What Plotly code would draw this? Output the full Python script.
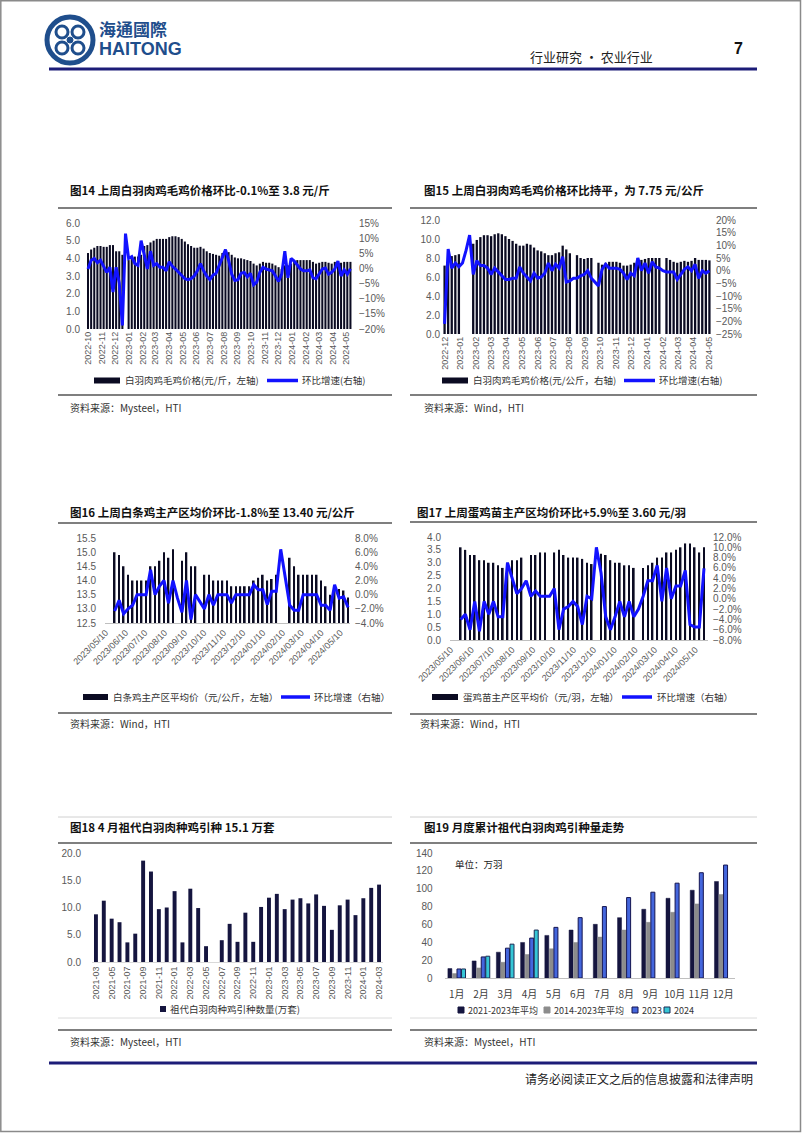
import plotly.graph_objects as go
import pandas as pd

W, H = 802, 1133
def X(px): return px / W
def Y(py): return 1 - py / H

DAY = 86400000

# ---------------- Chart 14: 白羽肉鸡毛鸡价格 (Mysteel) ----------------
c14_start = "2022-10-01"
c14_price = [4.3, 4.5, 4.6, 4.7, 4.7, 4.65, 4.65, 4.75, 4.75, 4.4, 4.4, 4.2, None,
             3.9, 4.0, 4.1, 4.1, 4.2, 4.7, 4.75, 4.9, 5.0, 5.1, 5.1, 5.1, 5.1,
             5.2, 5.25, 5.25, 5.2, 5.1, 4.95, 4.8, 4.7, 4.6, 4.6, 4.65, 4.55, 4.4, 4.3, 4.25, 4.2,
             4.15, 4.3, 4.5, 4.35, 4.2, 4.05, 4.0, 4.0, 3.95, 3.9, 3.85, 3.7, 3.6, 3.7, 3.8, 3.75,
             3.75, 3.7, 3.6, 3.5, 3.4, 3.6, 3.6, 3.7, 3.85, 3.9, 3.9, 3.9, 3.9, 3.9, 3.8, 3.7,
             3.75, 3.8, 3.8, 3.75, 3.7, 3.8, 3.8, 3.75, 3.8, 3.8, 3.8]
c14_chg = [-0.2, 2.7, 3.3, 1.9, 2.7, 0.4, -1.3, 0.4, -7.8, 0.4, -4.8, -18.8, 11.5,
           3.3, 3.9, 1.6, 1.0, 9.2, 4.5, -0.2, 5.7, 1.0, 1.6, 0.4, 0.4, -0.8,
           2.2, 0.7, -0.2, -1.3, -2.5, -3.4, -3.7, -3.4, -2.5, -0.8, 1.6, -0.8, -2.5, -3.7, -2.2, -1.6,
           1.0, 3.9, 6.2, 2.7, -1.9, -4.0, -3.7, -1.6, -1.3, -2.8, -1.6, -5.4, -4.5, -1.3, 0.4, -0.2,
           -0.5, -0.8, -2.5, -4.3, -1.9, 5.7, -3.1, 3.3, 2.4, 1.0, -0.2, -0.8, -0.8, -0.5, -3.1, -3.4,
           -1.9, -0.2, 0.1, -1.9, -1.3, -0.2, 2.4, -2.5, -0.5, -1.9, -0.1]

# ---------------- Chart 15: 白羽肉鸡毛鸡价格 (Wind) ----------------
c15_start = "2022-12-01"
c15_price = [7.2, 7.8, 8.2, 8.3, 8.4, None, None, None, 9.5, 9.9, 10.2, 10.4, 10.4, 10.3, 10.5,
             10.6, 10.5, 10.3, 10.0, 9.8, 9.5, 9.3, 9.3, 9.5, 9.4, 9.1, 8.8, 8.7, 8.5, 8.3,
             8.3, 8.5, 8.6, 9.3, 8.9, 8.5, None, 8.3, 8.0, 7.9, 8.0, 8.0, None, 7.5, 7.3,
             7.5, 7.6, 7.6, 7.6, 7.5, 7.2, 7.2, 7.3, 7.5, 8.0, 7.8, 7.9, 8.0, 8.0, 8.0,
             8.0, None, 8.0, 7.8, 7.6, 7.5, 7.6, 7.7, 7.6, 7.7, 8.0, 7.8, 7.8, 7.8, 7.75]
c15_chg = [-21.0, 8.5, 1.0, 3.0, 1.5, 3.0, 8.0, 14.0, -1.5, 4.0, 2.0, 2.0, 1.0, -1.5, 1.0,
           -0.5, -2.0, -3.5, -3.5, -3.0, -3.0, 1.5, -1.0, -2.5, -4.0, -1.0, -3.0, -2.5, -1.0, 3.0,
           0.0, 2.5, 1.0, 5.5, -4.5, -4.0, -3.0, -3.0, -2.0, -1.5, 0.0, -3.0, -4.5, -6.0, 0.5,
           2.5, 1.0, 1.0, 1.0, 0.5, -1.0, -3.5, -1.0, -2.0, 5.0, 0.0, 3.0, -1.0, 3.5, 1.5,
           1.0, 0.0, -0.5, -0.5, -0.5, -3.5, -1.5, 0.5, 1.5, 0.0, 2.5, -3.0, 0.0, -1.0, 0.0]

# ---------------- Chart 16: 白条鸡主产区均价 ----------------
c16_start = "2023-05-24"
c16_price = [15.0, 14.9, 14.5, 14.2, 14.0, 14.0, 14.0, 14.0, 14.5, 14.5, 14.7, 15.0, 14.8,
             15.1, None, 14.7, 15.0, 14.5, 14.5, None, 14.2, 14.2, 14.0, 14.0, 14.0, 14.0,
             13.8, 13.8, 13.8, 13.8, 13.8, 14.0, 14.1, 14.2, 14.0, 14.05, 14.2, None, None,
             14.8, 14.5, 14.2, 14.2, 14.2, 14.2, 14.2, 14.0, 13.8, 13.5, 13.7, 13.7, 13.65, 13.4]
c16_chg = [-2.3, -0.8, -2.7, -2.0, -1.5, 0.0, 0.0, 0.0, 3.5, 0.0, 1.2, 2.0, -1.2,
           2.0, -0.5, -2.5, 2.0, -3.5, 0.0, -1.0, -2.0, 0.0, -1.5, 0.0, 0.0, 0.0,
           -1.2, 0.0, 0.0, 0.0, 0.0, 1.4, 0.7, 0.7, -1.4, 0.5, 0.5, 6.4, 2.5,
           -1.5, -2.2, -2.2, 0.0, 0.0, 0.0, 0.0, -1.5, -1.5, -2.2, 1.4, -0.5, -0.3, -1.8]

# ---------------- Chart 17: 蛋鸡苗主产区均价 ----------------
c17_start = "2023-05-25"
c17_price = [3.6, 3.5, 3.3, 3.3, 3.1, 3.1, 3.0, 3.0, 2.9, 2.8, 3.0, 3.1, 3.1, 3.2,
             None, 3.3, 3.3, 3.4, 3.4, None, 3.4, 3.5, 3.3, 3.2, 3.2, 3.2, 3.15, 3.0,
             2.95, None, 3.35, 3.3, 3.1, 3.0, 3.0, 2.9, 2.9, 2.8, None, 2.8, 2.9, 3.0,
             3.2, 3.2, 3.4, 3.4, 3.5, 3.6, 3.75, 3.75, 3.6, 3.4, 3.6]
c17_chg = [-4.0, -3.0, -6.0, -0.5, -6.3, -0.5, -3.0, -0.5, -3.5, -3.5, 7.0, 4.0, 1.0, 2.0,
           3.5, 0.5, 1.5, 0.5, 0.5, 0.5, 2.0, -6.0, -2.0, -1.5, -0.5, -1.5, -5.0, 0.5,
           0.0, 10.0, 5.0, -3.5, -6.0, -3.5, -0.5, -3.5, -0.5, -3.5, -2.0, 0.5, 3.5, 3.5,
           6.5, -0.5, 6.0, 0.0, 2.5, 2.5, 5.5, -5.0, -5.5, -5.5, 5.9]

# ---------------- Chart 18: 祖代白羽肉种鸡引种数量 ----------------
c18_start = "2021-03-01"
c18_values = [8.75, 11.25, 7.95, 7.3, 3.6, 5.2, 18.6, 16.6, 9.7, 10.0, 13.0, 3.6, 13.45, 9.9,
              2.9, 0.0, 4.0, 7.0, 3.7, 9.05, 3.7, 10.1, 11.8, 12.5, 9.7, 11.45, 11.7, 10.75,
              12.4, 10.3, 5.9, 10.4, 11.45, 8.6, 11.7, 13.6, 14.2]

# ---------------- Chart 19: 月度累计祖代白羽肉鸡引种量 ----------------
c19_months = ["1月", "2月", "3月", "4月", "5月", "6月", "7月", "8月", "9月", "10月", "11月", "12月"]
c19_avg_21_23 = [10.5, 19.1, 28.9, 39.8, 47.7, 53.7, 60.1, 67.6, 77.0, 89.3, 98.3, 108.1]
c19_avg_14_23 = [4.9, 11.3, 17.6, 26.3, 32.7, 39.8, 45.8, 53.7, 62.3, 73.6, 83.0, 93.5]
c19_2023 = [10.1, 23.6, 33.4, 44.7, 56.7, 67.6, 80.0, 90.1, 96.1, 106.2, 117.9, 126.5]
c19_2024 = [10.1, 24.4, 37.9, 53.7, None, None, None, None, None, None, None, None]
c19_names = ["2021-2023年平均", "2014-2023年平均", "2023", "2024"]

# ---------------- derived x values ----------------
c14_x = pd.date_range(c14_start, periods=len(c14_price), freq="7D")
c15_x = pd.date_range(c15_start, periods=len(c15_price), freq="7D")
c16_x = pd.date_range(c16_start, periods=len(c16_price), freq="7D")
c17_x = pd.date_range(c17_start, periods=len(c17_price), freq="7D")
c18_x = list(pd.date_range(c18_start, periods=len(c18_values), freq="MS").strftime("%Y-%m"))

BAR = "#0b0b22"
NAVY = "#15153f"
BLUE = "#1212ff"
CJK = "Noto Sans CJK SC"
LAT = "Liberation Sans, Arial, sans-serif"
TICKC = "#595959"

fig = go.Figure()

def line_tr(x, y, xa, ya):
    return go.Scatter(x=x, y=y, mode="lines", line=dict(color=BLUE, width=3),
                      connectgaps=True, xaxis=xa, yaxis=ya, showlegend=False, hoverinfo="skip")

fig.add_trace(go.Bar(x=c14_x, y=c14_price, width=4.6 * DAY, marker_color=BAR, xaxis="x", yaxis="y", showlegend=False))
fig.add_trace(line_tr(c14_x, c14_chg, "x", "y2"))
fig.add_trace(go.Bar(x=c15_x, y=c15_price, width=4.5 * DAY, marker_color=BAR, xaxis="x2", yaxis="y3", showlegend=False))
fig.add_trace(line_tr(c15_x, c15_chg, "x2", "y4"))
fig.add_trace(go.Bar(x=c16_x, y=c16_price, width=2.6 * DAY, marker_color=BAR, xaxis="x3", yaxis="y5", showlegend=False))
fig.add_trace(line_tr(c16_x, c16_chg, "x3", "y6"))
fig.add_trace(go.Bar(x=c17_x, y=c17_price, width=2.5 * DAY, marker_color=BAR, xaxis="x4", yaxis="y7", showlegend=False))
fig.add_trace(line_tr(c17_x, c17_chg, "x4", "y8"))
fig.add_trace(go.Bar(x=c18_x, y=c18_values, width=0.5, marker_color=NAVY, xaxis="x5", yaxis="y9", showlegend=False))

c19_styles = [dict(color=NAVY, line=dict(color=NAVY, width=0.5)),
              dict(color="#8c8c8c", line=dict(color="#8c8c8c", width=0.5)),
              dict(color="#4466dd", line=dict(color="#141450", width=1)),
              dict(color="#36c6d6", line=dict(color="#1a2a55", width=1))]
for name, vals, st in zip(c19_names, [c19_avg_21_23, c19_avg_14_23, c19_2023, c19_2024], c19_styles):
    fig.add_trace(go.Bar(x=c19_months, y=vals, name=name, marker=st, xaxis="x6", yaxis="y10", showlegend=False))

tickf = dict(family=LAT, size=10, color=TICKC)

def xdate(d0, d1, rng, tick0, fmt, angle, anchor, line=False, size=9):
    return dict(domain=[X(d0), X(d1)], anchor=anchor, type="date", range=rng, tick0=tick0, dtick="M1",
                tickformat=fmt, tickangle=angle, showgrid=False, zeroline=False, ticks="",
                showline=line, linecolor="#bfbfbf", linewidth=1, automargin=False,
                tickfont=dict(family=LAT, size=size, color=TICKC))

def yleft(p0, p1, rng, dtick, fmt, anchor, so=0):
    return dict(domain=[Y(p0), Y(p1)], anchor=anchor, range=rng, dtick=dtick, tickformat=fmt,
                showgrid=False, zeroline=False, ticks="", showline=False, tickfont=tickf,
                automargin=False, ticklabelstandoff=so)

def yright(over, anchor, rng, dtick, fmt, so=0):
    return dict(overlaying=over, anchor=anchor, side="right", range=rng, dtick=dtick, tickformat=fmt,
                ticksuffix="%", showgrid=False, zeroline=False, ticks="", showline=False, tickfont=tickf,
                automargin=False, ticklabelstandoff=so)

layout = dict(
    template="none",
    width=W, height=H, margin=dict(l=0, r=0, t=0, b=0, pad=0), autosize=False,
    paper_bgcolor="white", plot_bgcolor="white",
    barmode="group", bargap=0.25, bargroupgap=0.12, showlegend=False,
    xaxis=xdate(86, 354, ["2022-09-26 12:00", "2024-05-19"], "2022-10-01", "%Y-%m", -90, "y"),
    yaxis=yleft(329, 223, [0, 6], 1, ".1f", "x", so=5),
    yaxis2=yright("y", "x", [-20, 15], 5, "d", so=4),
    xaxis2=xdate(441, 713, ["2022-11-24", "2024-05-09"], "2022-12-01", "%Y-%m", -90, "y3"),
    yaxis3=yleft(334, 220, [0, 12], 2, ".1f", "x2"),
    yaxis4=yright("y3", "x2", [-25, 20], 5, "d", so=2),
    xaxis3=xdate(105, 350, ["2023-05-09", "2024-05-25"], "2023-05-10", "%Y/%m/%d", -45, "y5", line=True),
    yaxis5=yleft(623, 538, [12.5, 15.5], 0.5, ".1f", "x3", so=8),
    yaxis6=yright("y5", "x3", [-4, 8], 2, ".1f", so=4),
    xaxis4=xdate(450, 708, ["2023-05-09", "2024-05-29"], "2023-05-10", "%Y/%m/%d", -45, "y7", line=True),
    yaxis7=yleft(640, 537, [0, 4], 0.5, ".1f", "x4", so=8),
    yaxis8=yright("y7", "x4", [-8, 12], 2, ".1f", so=4),
    xaxis5=dict(domain=[X(92), X(383)], anchor="y9", type="category", tickangle=-90,
                tickvals=c18_x[::2], ticktext=c18_x[::2], showgrid=False, ticks="", automargin=False,
                showline=True, linecolor="#d9d9d9", tickfont=dict(family=LAT, size=9, color=TICKC)),
    yaxis9=yleft(962, 853, [0, 20], 5, ".1f", "x5", so=10),
    xaxis6=dict(domain=[X(444.6), X(735.4)], anchor="y10", type="category", showgrid=False, ticks="",
                automargin=False, showline=True, linecolor="#bfbfbf", ticklabelstandoff=7,
                tickfont=dict(family=CJK, size=10, color="#404040")),
    yaxis10=yleft(978, 853, [0, 140], 20, "d", "x6", so=11),
)
fig.update_layout(**layout)

shapes = []
annots = []

def hline(y, x0, x1, color, width):
    shapes.append(dict(type="line", xref="paper", yref="paper", x0=X(x0), x1=X(x1), y0=Y(y), y1=Y(y),
                       line=dict(color=color, width=width)))

def rect(x0, x1, y0, y1, fill, line=None):
    shapes.append(dict(type="rect", xref="paper", yref="paper", x0=X(x0), x1=X(x1), y0=Y(y0), y1=Y(y1),
                       fillcolor=fill, line=dict(color=line or fill, width=1 if line else 0)))

def txt(x, y, s, size, color="#222222", anchor="left", family=CJK):
    annots.append(dict(x=X(x), y=Y(y), xref="paper", yref="paper", text=s, showarrow=False,
                       xanchor=anchor, yanchor="middle", font=dict(family=family, size=size, color=color)))

# page border
shapes.append(dict(type="rect", xref="paper", yref="paper", x0=X(0.8), x1=X(800.5), y0=Y(1131.5), y1=Y(0.8),
                   line=dict(color="#8a8a8a", width=1.5), fillcolor="rgba(0,0,0,0)"))

# header logo
LOGO = "#1f4e8c"
shapes.append(dict(type="circle", xref="paper", yref="paper", x0=X(47), x1=X(93), y0=Y(63), y1=Y(17),
                   line=dict(color=LOGO, width=5), fillcolor="white"))
for cx, cy in [(62, 32), (78, 32), (62, 48), (78, 48)]:
    shapes.append(dict(type="circle", xref="paper", yref="paper", x0=X(cx - 6), x1=X(cx + 6),
                       y0=Y(cy + 6), y1=Y(cy - 6), line=dict(color=LOGO, width=3), fillcolor="white"))
shapes.append(dict(type="circle", xref="paper", yref="paper", x0=X(67), x1=X(73), y0=Y(43), y1=Y(37),
                   line=dict(color=LOGO, width=1), fillcolor=LOGO))
txt(97, 28, "<b>海通國際</b>", 17, LOGO, family="Noto Sans CJK TC")
txt(97, 49.5, "<b>HAITONG</b>", 18, LOGO, family="Liberation Sans Narrow, Liberation Sans, Arial")
txt(655, 57, "行业研究 · 农业行业", 13, "#222222", anchor="right")
txt(738, 48, "<b>7</b>", 16, "#111111", anchor="center", family=LAT)
hline(69, 49, 757, "#1c1c78", 3)
hline(1063, 49, 757, "#1c1c78", 3)
txt(755, 1078, "请务必阅读正文之后的信息披露和法律声明", 12, "#222222", anchor="right")

RULE = "#7f7f7f"
# chart frames
for (xl, xr) in [(58, 392), (410, 757)]:
    hline(208, xl, xr, RULE, 2)
    hline(395, xl, xr, RULE, 2)
hline(523, 58, 392, RULE, 2); hline(713, 58, 392, RULE, 2)
hline(522, 410, 757, RULE, 2); hline(714, 410, 757, RULE, 2)
for (xl, xr) in [(58, 392), (410, 757)]:
    hline(817, xl, xr, "#d0d0d0", 1)
    hline(843, xl, xr, RULE, 2)
    hline(1018, xl, xr, "#dcdcdc", 1)
    hline(1030, xl, xr, RULE, 2)

# titles
TS = 11.5
txt(68, 190, "<b>图14 上周白羽肉鸡毛鸡价格环比-0.1%至 3.8 元/斤</b>", TS, "#111111")
txt(422, 190, "<b>图15 上周白羽肉鸡毛鸡价格环比持平，为 7.75 元/公斤</b>", TS, "#111111")
txt(68, 512, "<b>图16 上周白条鸡主产区均价环比-1.8%至 13.40 元/公斤</b>", TS, "#111111")
txt(415, 512, "<b>图17 上周蛋鸡苗主产区均价环比+5.9%至 3.60 元/羽</b>", TS, "#111111")
txt(68, 827, "<b>图18 4 月祖代白羽肉种鸡引种 15.1 万套</b>", TS, "#111111")
txt(422, 827, "<b>图19 月度累计祖代白羽肉鸡引种量走势</b>", TS, "#111111")

# sources
txt(68, 407, "资料来源：Mysteel，HTI", 10, "#333333")
txt(422, 407, "资料来源：Wind，HTI", 10, "#333333")
txt(68, 723, "资料来源：Wind，HTI", 10, "#333333")
txt(418, 723, "资料来源：Wind，HTI", 10, "#333333")
txt(68, 1041, "资料来源：Mysteel，HTI", 10, "#333333")
txt(422, 1041, "资料来源：Mysteel，HTI", 10, "#333333")

# manual legends
LG = "#333333"
def leg_line(x0, x1, y):
    shapes.append(dict(type="line", xref="paper", yref="paper", x0=X(x0), x1=X(x1), y0=Y(y), y1=Y(y),
                       line=dict(color=BLUE, width=3.5)))

rect(94, 120, 383.5, 377.5, BAR); txt(123, 380.5, "白羽肉鸡毛鸡价格(元/斤，左轴)", 9.5, LG)
leg_line(267, 298, 380.5); txt(300, 380.5, "环比增速(右轴)", 9.5, LG)
rect(442, 468, 383.5, 377.5, BAR); txt(471, 380.5, "白羽肉鸡毛鸡价格(元/公斤，右轴)", 9.5, LG)
leg_line(624, 655, 380.5); txt(657, 380.5, "环比增速(右轴)", 9.5, LG)
rect(83, 108, 700, 694, BAR); txt(111, 697, "白条鸡主产区平均价（元/公斤，左轴）", 9.5, LG)
leg_line(281, 310, 697); txt(312, 697, "环比增速（右轴）", 9.5, LG)
rect(432, 458, 700, 694, BAR); txt(461, 697, "蛋鸡苗主产区平均价（元/羽，左轴）", 9.5, LG)
leg_line(622, 652, 697); txt(655, 697, "环比增速（右轴）", 9.5, LG)
rect(160, 166, 1012, 1006, NAVY); txt(168, 1009, "祖代白羽肉种鸡引种数量(万套)", 9.5, LG)
for xs, (st, name) in zip([458, 544, 632, 664], zip(c19_styles, c19_names)):
    rect(xs, xs + 6, 1013, 1007, st["color"], st["line"]["color"])
    txt(xs + 8, 1010, name, 9, LG)
txt(453, 864, "单位：万羽", 9.5, "#222222")

fig.update_layout(shapes=shapes, annotations=annots)

fig.write_html("out.html", config={"displayModeBar": False},
               post_script="document.body.style.margin='0';")
